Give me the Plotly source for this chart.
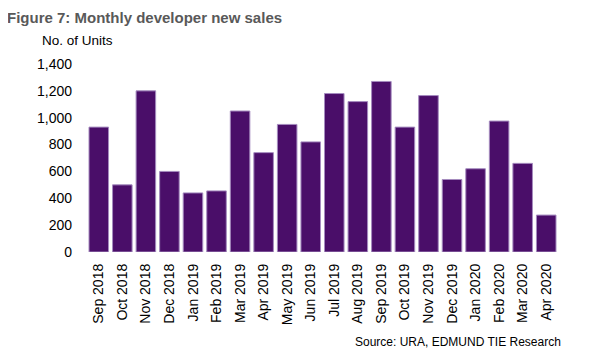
import plotly.graph_objects as go

months = ["Sep 2018", "Oct 2018", "Nov 2018", "Dec 2018", "Jan 2019", "Feb 2019",
          "Mar 2019", "Apr 2019", "May 2019", "Jun 2019", "Jul 2019", "Aug 2019",
          "Sep 2019", "Oct 2019", "Nov 2019", "Dec 2019", "Jan 2020", "Feb 2020",
          "Mar 2020", "Apr 2020"]
units = [930, 500, 1200, 600, 440, 455, 1050, 740, 950, 820, 1180, 1120,
         1270, 930, 1165, 540, 620, 975, 660, 275]
y_ticks = [0, 200, 400, 600, 800, 1000, 1200, 1400]

# page offset of 8px (body margin) accounted for in figure coordinates
W, H = 586, 344
L, R, T, B = 79, 36, 56, 100
pw, ph = W - L - R, H - T - B


def px(xp):
    return (xp - 8 - L) / pw


def py(yp):
    return 1 - (yp - 8 - T) / ph


fig = go.Figure()
fig.add_trace(go.Bar(
    x=months, y=units,
    marker=dict(color="#4a0e69", line=dict(color="#a58bbf", width=1)),
))

fig.update_layout(
    width=W, height=H,
    margin=dict(l=L, r=R, t=T, b=B),
    paper_bgcolor="white", plot_bgcolor="white",
    bargap=0.17,
    showlegend=False,
    font=dict(family="Liberation Sans, Arial, sans-serif", color="#000000", size=14),
    xaxis=dict(
        tickangle=-90, showgrid=False, showline=False, zeroline=False,
        ticks="", tickfont=dict(size=14), ticklabelstandoff=8,
    ),
    yaxis=dict(
        range=[0, 1400], tickvals=y_ticks, tickformat=",",
        showgrid=False, showline=False, zeroline=False, ticks="",
        tickfont=dict(size=14), ticklabelstandoff=14,
    ),
    annotations=[
        dict(text="<b>Figure 7: Monthly developer new sales</b>", xref="paper", yref="paper",
             x=px(5), y=py(17), xanchor="left", yanchor="middle",
             showarrow=False, font=dict(size=15, color="#595959")),
        dict(text="No. of Units", xref="paper", yref="paper",
             x=px(40), y=py(41), xanchor="left", yanchor="middle",
             showarrow=False, font=dict(size=13.5, color="#000000")),
        dict(text="Source: URA, EDMUND TIE Research", xref="paper", yref="paper",
             x=px(563), y=py(342), xanchor="right", yanchor="middle",
             showarrow=False, font=dict(size=12, color="#000000")),
    ],
)

fig.write_html("out.html")
